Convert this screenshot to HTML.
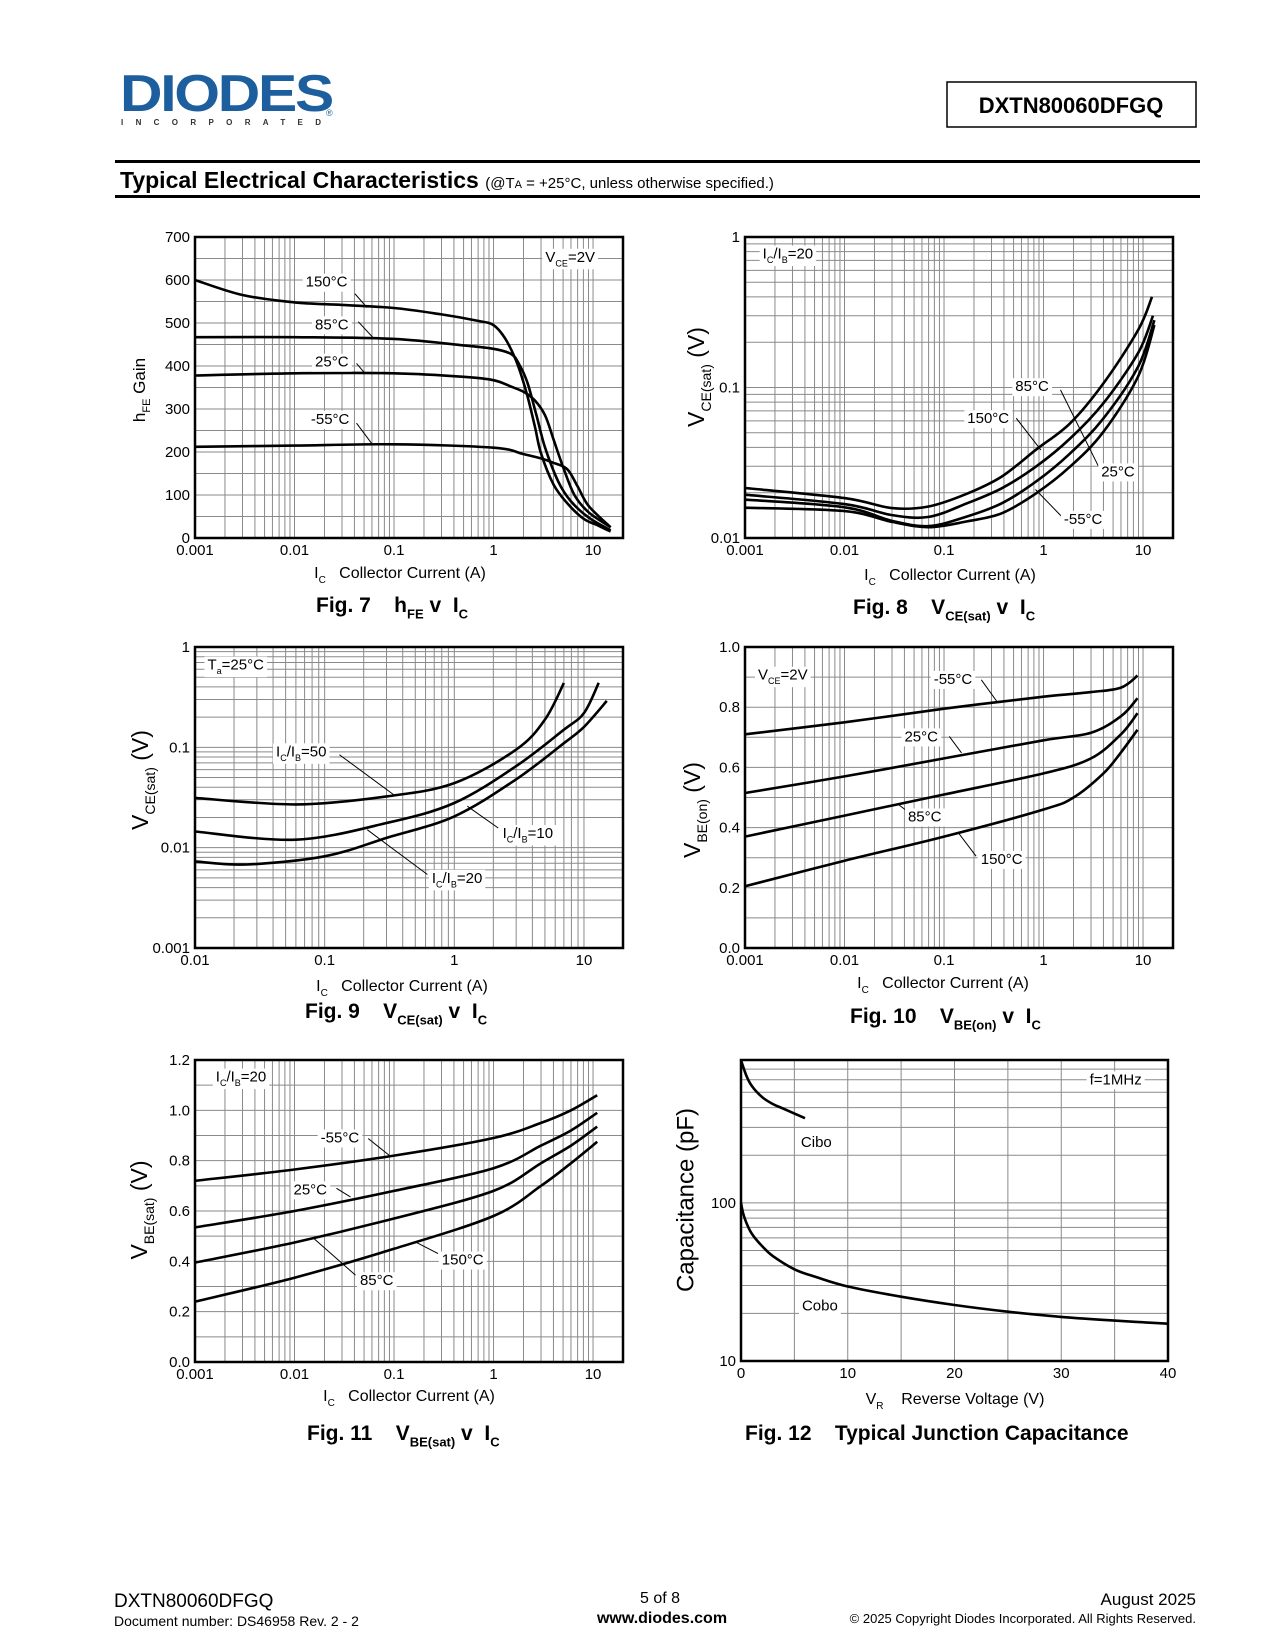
<!DOCTYPE html>
<html><head><meta charset="utf-8"><style>
body{margin:0;background:#fff}
svg{display:block;font-family:"Liberation Sans",Arial,sans-serif}
</style></head><body>
<svg id="page" xmlns="http://www.w3.org/2000/svg" width="1275" height="1650" viewBox="0 0 1275 1650">
<rect x="0" y="0" width="1275" height="1650" fill="#fff"/>
<g>
<text x="120" y="111" font-size="52" font-weight="bold" fill="#1d5e9e" textLength="212" lengthAdjust="spacingAndGlyphs" letter-spacing="-2">DIODES</text>
<text x="121" y="125" font-size="8" font-weight="bold" fill="#333" textLength="200" lengthAdjust="spacing">INCORPORATED</text>
<text x="326" y="116" font-size="9" fill="#1d5e9e">®</text>
</g>
<rect x="947" y="82" width="249" height="45" fill="none" stroke="#000" stroke-width="1.5"/>
<text x="1071" y="113" font-size="22" font-weight="bold" text-anchor="middle">DXTN80060DFGQ</text>
<rect x="115" y="160" width="1085" height="3" fill="#000"/>
<rect x="115" y="195" width="1085" height="3" fill="#000"/>
<text x="120" y="188" font-size="23" font-weight="bold">Typical Electrical Characteristics <tspan font-size="15" font-weight="normal">(@T<tspan font-size="11">A</tspan> = +25°C, unless otherwise specified.)</tspan></text>
<g>
<text x="114" y="1607" font-size="19">DXTN80060DFGQ</text>
<text x="114" y="1626" font-size="14">Document number: DS46958 Rev. 2 - 2</text>
<text x="660" y="1603" font-size="16" text-anchor="middle">5 of 8</text>
<text x="662" y="1623" font-size="16" font-weight="bold" text-anchor="middle">www.diodes.com</text>
<text x="1196" y="1605" font-size="17" text-anchor="end">August 2025</text>
<text x="1196" y="1623" font-size="13" text-anchor="end">© 2025 Copyright Diodes Incorporated. All Rights Reserved.</text>
</g>
<g id="charts"></g>
</svg>
<script>
// ---------- Fig 7 data ----------
const f7X150=[0.001,0.003,0.01,0.03,0.1,0.3,0.7,1,1.3,1.7,2.15,2.6,3,4,5.5,8,11,15];
const f7Y150=[600,565,548,542,535,520,505,495,465,410,337,260,197,125,81,45,30,15];
const f7X85=[0.001,0.01,0.1,0.5,1,1.5,1.8,2.2,2.7,3.3,4.5,6,9,15];
const f7Y85=[467,467,463,448,440,428,405,360,285,210,130,85,48,18];
const f7X25=[0.001,0.01,0.1,0.5,1,1.5,2,2.6,3.3,4,5,6.5,9,15];
const f7Y25=[378,383,383,375,367,352,340,320,285,230,165,100,60,25];
const f7Xm55=[0.001,0.01,0.1,1,2,3,4,5.5,7,9,15];
const f7Ym55=[212,215,218,210,195,185,175,160,120,75,25];
const f7YTicks=[0,100,200,300,400,500,600,700];
const f7YLabels=["0","100","200","300","400","500","600","700"];
// ---------- Fig 8 data ----------
const f8X1=[0.001,0.01,0.03,0.07,0.17,0.38,0.84,1.85,4,8.9,12.3];
const f8Y1=[0.0215,0.0184,0.0158,0.0162,0.0197,0.0256,0.0386,0.0578,0.1065,0.24,0.40];
const f8X2=[0.001,0.01,0.03,0.07,0.17,0.38,0.84,1.85,4,8.9,12.6];
const f8Y2=[0.0194,0.0168,0.0142,0.0138,0.0170,0.0214,0.0298,0.0458,0.0787,0.169,0.30];
const f8X3=[0.001,0.01,0.03,0.07,0.17,0.38,0.84,1.85,4,8.9,13];
const f8Y3=[0.018,0.016,0.013,0.0120,0.0139,0.017,0.0237,0.0365,0.0623,0.137,0.28];
const f8Y4=[0.0159,0.0151,0.0128,0.0118,0.0129,0.0146,0.0198,0.0298,0.0508,0.118,0.26];
// ---------- Fig 9 data ----------
const f9X50=[0.01,0.06,0.3,1,3,5,7];
const f9Y50=[0.0313,0.027,0.0324,0.044,0.095,0.189,0.438];
const f9X10=[0.01,0.06,0.3,1,3,7,10,13];
const f9Y10=[0.0145,0.012,0.0176,0.0279,0.065,0.15,0.22,0.44];
const f9X20=[0.01,0.025,0.1,0.3,1,3,7,10,15];
const f9Y20=[0.0073,0.0068,0.0082,0.0125,0.0205,0.048,0.11,0.16,0.29];
// ---------- Fig 10 data ----------
const f10X=[0.001,0.01,0.1,1,3,6,8.8];
const f10Ym55=[0.71,0.75,0.795,0.835,0.85,0.865,0.905];
const f10Y25=[0.515,0.57,0.63,0.69,0.715,0.77,0.83];
const f10Y85=[0.37,0.44,0.51,0.58,0.63,0.71,0.78];
const f10X150=[0.001,0.01,0.1,1,2,4,6,8.8];
const f10Y150=[0.205,0.29,0.37,0.46,0.5,0.58,0.65,0.725];
// ---------- Fig 11 data ----------
const f11X=[0.001,0.01,0.1,1,3,6,11];
const f11Ym55=[0.72,0.765,0.82,0.89,0.95,1.0,1.06];
const f11Y25=[0.535,0.6,0.68,0.77,0.86,0.92,0.99];
const f11Y85=[0.395,0.475,0.57,0.68,0.79,0.86,0.935];
const f11Y150=[0.24,0.335,0.45,0.58,0.7,0.79,0.875];
// ---------- Fig 12 data ----------
const f12XCibo=[0,0.5,1,2,3,4,6];
const f12YCibo=[796,638,550,465,421,393,343];
const f12XCobo=[0,0.2,0.5,1,2,3,5,7,10,15,20,25,30,35,40];
const f12YCobo=[100,86,75,64,53,46,38,34,29.6,25.5,22.6,20.5,19,18,17.2];
const logXTicks3=[0.001,0.01,0.1,1,10];
const logXLabels3=["0.001","0.01","0.1","1","10"];

const NS="http://www.w3.org/2000/svg";
const SP="\u00a0";
const root=document.getElementById('charts');
function mk(tag,attrs,parent){const e=document.createElementNS(NS,tag);for(const k in attrs)e.setAttribute(k,attrs[k]);parent.appendChild(e);return e;}
function logScale(d0,d1,r0,r1){const a=Math.log10(d0),b=Math.log10(d1);return v=>r0+(Math.log10(v)-a)/(b-a)*(r1-r0);}
function linScale(d0,d1,r0,r1){return v=>r0+(v-d0)/(d1-d0)*(r1-r0);}
function segText(parent,x,y,segs,size,anchor,bold){
  const t=mk('text',{x:x,y:y,'font-size':size,'text-anchor':anchor||'start'},parent);
  if(bold)t.setAttribute('font-weight','bold');
  let down=false;
  segs.forEach(s=>{const sp=mk('tspan',{},t);sp.textContent=s[0].replace(/ /g,SP);
    if(s[1]==='sub'){sp.setAttribute('font-size',Math.round(size*0.62));if(!down){sp.setAttribute('dy',size*0.3);down=true;}}
    else if(down){sp.setAttribute('dy',-size*0.3);down=false;}});
  return t;
}
function curvePath(px){let d='M'+px[0][0].toFixed(1)+','+px[0][1].toFixed(1);
  for(let i=0;i<px.length-1;i++){const p0=px[Math.max(0,i-1)],p1=px[i],p2=px[i+1],p3=px[Math.min(px.length-1,i+2)];
    const c1=[p1[0]+(p2[0]-p0[0])/6,p1[1]+(p2[1]-p0[1])/6],c2=[p2[0]-(p3[0]-p1[0])/6,p2[1]-(p3[1]-p1[1])/6];
    d+=' C'+c1[0].toFixed(1)+','+c1[1].toFixed(1)+' '+c2[0].toFixed(1)+','+c2[1].toFixed(1)+' '+p2[0].toFixed(1)+','+p2[1].toFixed(1);}
  return d;}

function chart(c){
  const g=mk('g',{},root);
  
  
  const L=c.x,T=c.y,R=c.x+c.w,B=c.y+c.h;
  const sx=c.xlog?logScale(c.xd[0],c.xd[1],L,R):linScale(c.xd[0],c.xd[1],L,R);
  const sy=c.ylog?logScale(c.yd[0],c.yd[1],B,T):linScale(c.yd[0],c.yd[1],B,T);
  const grid=mk('g',{stroke:'#8a8a8a','stroke-width':1},g);
  
  
  function gridVals(log,d,step){const out=[];
    if(log){for(let e=Math.floor(Math.log10(d[0]));e<=Math.ceil(Math.log10(d[1]));e++)for(let m=1;m<=9;m++){const v=m*Math.pow(10,e);if(v>d[0]*1.0001&&v<d[1]*0.9999)out.push(v);}}
    else{for(let v=d[0]+step;v<d[1]-1e-9;v+=step)out.push(v);}return out;}
  gridVals(c.xlog,c.xd,c.xstep).forEach(v=>{const X=sx(v);mk('line',{x1:X,x2:X,y1:T,y2:B},grid);});
  gridVals(c.ylog,c.yd,c.ystep).forEach(v=>{const Y=sy(v);mk('line',{x1:L,x2:R,y1:Y,y2:Y},grid);});
  c.series.forEach(s=>{
    const p=mk('path',{d:curvePath(s.xs.map((xv,i)=>[sx(xv),sy(s.ys[i])])),fill:'none',stroke:'#000','stroke-width':2.6,'stroke-linejoin':'round'},g);
    
    
  });
  (c.labels||[]).forEach(a=>{
    if(a.line){const ln=mk('line',{x1:sx(a.line[0]),y1:sy(a.line[1]),x2:sx(a.line[2]),y2:sy(a.line[3]),stroke:'#000','stroke-width':1},g);
      
      }
    const bg=mk('rect',{fill:'#fff'},g);
    const t=segText(g,sx(a.at[0]),sy(a.at[1])+5,a.segs,15,'middle');
    
    
    const bb=t.getBBox();bg.setAttribute('x',bb.x-3);bg.setAttribute('y',bb.y);bg.setAttribute('width',bb.width+6);bg.setAttribute('height',bb.height+1);
  });
  const fr=mk('rect',{x:L,y:T,width:c.w,height:c.h,fill:'none',stroke:'#000','stroke-width':2.5},g);
  
  
  c.yticks.forEach((v,i)=>{const t=mk('text',{x:L-5,y:sy(v)+5,'font-size':15,'text-anchor':'end'},g);t.textContent=c.ylabels[i];
    
    });
  c.xticks.forEach((v,i)=>{const t=mk('text',{x:sx(v),y:B+17,'font-size':15,'text-anchor':'middle'},g);t.textContent=c.xlabels[i];
    
    });
  const xt=segText(g,c.xt[0],c.xt[1],c.xtSegs,16,'middle');
  
  
  const ytg=mk('g',{transform:'rotate(-90 '+c.yt[0]+' '+c.yt[1]+')'},g);
  const yt=segText(ytg,c.yt[0],c.yt[1]+c.ytSize*0.35,c.ytSegs,c.ytSize,'middle');
  
  
  const cap=segText(g,c.cap[0],c.cap[1],c.capSegs,21,'start',true);
  
  
}
const icTitle=[["I",""],["C","sub"],["   Collector Current (A)",""]];

chart({name:'fig7-hfe-chart',x:195,y:237,w:428,h:301,xlog:true,xd:[0.001,20],ylog:false,yd:[0,700],ystep:50,
 xticks:logXTicks3,xlabels:logXLabels3,yticks:f7YTicks,ylabels:f7YLabels,
 series:[{name:'hfe-150c',xs:f7X150,ys:f7Y150},{name:'hfe-85c',xs:f7X85,ys:f7Y85},{name:'hfe-25c',xs:f7X25,ys:f7Y25},{name:'hfe-m55c',xs:f7Xm55,ys:f7Ym55}],
 labels:[{name:'label-150c',segs:[["150°C",""]],at:[0.021,596],line:[0.0405,568,0.0535,536]},
  {name:'label-85c',segs:[["85°C",""]],at:[0.0237,497],line:[0.0437,503,0.0627,464]},
  {name:'label-25c',segs:[["25°C",""]],at:[0.0237,410],line:[0.042,406,0.051,383]},
  {name:'label-m55c',segs:[["-55°C",""]],at:[0.0228,277],line:[0.042,267,0.06,219]},
  {name:'vce-condition',segs:[["V",""],["CE","sub"],["=2V",""]],at:[5.9,654]}],
 xt:[400,578],xtSegs:icTitle,yt:[139,390],ytSize:17,ytSegs:[["h",""],["FE","sub"],[" Gain",""]],
 cap:[316,612],capSegs:[["Fig. 7    h",""],["FE","sub"],[" v  I",""],["C","sub"]]});

chart({name:'fig8-vcesat-temp-chart',x:745,y:237,w:428,h:301,xlog:true,xd:[0.001,20],ylog:true,yd:[0.01,1],
 xticks:logXTicks3,xlabels:logXLabels3,yticks:[0.01,0.1,1],ylabels:["0.01","0.1","1"],
 series:[{name:'vcesat-top',xs:f8X1,ys:f8Y1},{name:'vcesat-second',xs:f8X2,ys:f8Y2},{name:'vcesat-third',xs:f8X3,ys:f8Y3},{name:'vcesat-bottom',xs:f8X3,ys:f8Y4}],
 labels:[{name:'ic-ib-condition',segs:[["I",""],["C","sub"],["/I",""],["B","sub"],["=20",""]],at:[0.0027,0.776]},
  {name:'label-85c',segs:[["85°C",""]],at:[0.767,0.102],line:[1.48,0.0964,3.57,0.0299]},
  {name:'label-150c',segs:[["150°C",""]],at:[0.278,0.0625],line:[0.532,0.0625,0.94,0.0385]},
  {name:'label-25c',segs:[["25°C",""]],at:[5.6,0.0277]},
  {name:'label-m55c',segs:[["-55°C",""]],at:[2.5,0.0134],line:[1.52,0.0139,0.83,0.021]}],
 xt:[950,580],xtSegs:icTitle,yt:[696,377],ytSize:23,ytSegs:[["V",""],["CE(sat)","sub"],[" (V)",""]],
 cap:[853,614],capSegs:[["Fig. 8    V",""],["CE(sat)","sub"],[" v  I",""],["C","sub"]]});

chart({name:'fig9-vcesat-ratio-chart',x:195,y:647,w:428,h:301,xlog:true,xd:[0.01,20],ylog:true,yd:[0.001,1],
 xticks:[0.01,0.1,1,10],xlabels:["0.01","0.1","1","10"],yticks:[0.001,0.01,0.1,1],ylabels:["0.001","0.01","0.1","1"],
 series:[{name:'vcesat-ratio-50',xs:f9X50,ys:f9Y50},{name:'vcesat-ratio-10',xs:f9X10,ys:f9Y10},{name:'vcesat-ratio-20',xs:f9X20,ys:f9Y20}],
 labels:[{name:'ta-condition',segs:[["T",""],["a","sub"],["=25°C",""]],at:[0.0206,0.667]},
  {name:'label-ratio-50',segs:[["I",""],["C","sub"],["/I",""],["B","sub"],["=50",""]],at:[0.066,0.0913],line:[0.13,0.0844,0.34,0.0338]},
  {name:'label-ratio-10',segs:[["I",""],["C","sub"],["/I",""],["B","sub"],["=10",""]],at:[3.69,0.014],line:[2.18,0.0157,1.26,0.0259]},
  {name:'label-ratio-20',segs:[["I",""],["C","sub"],["/I",""],["B","sub"],["=20",""]],at:[1.05,0.005],line:[0.62,0.0054,0.213,0.0151]}],
 xt:[402,991],xtSegs:icTitle,yt:[140,780],ytSize:23,ytSegs:[["V",""],["CE(sat)","sub"],[" (V)",""]],
 cap:[305,1018],capSegs:[["Fig. 9    V",""],["CE(sat)","sub"],[" v  I",""],["C","sub"]]});

chart({name:'fig10-vbeon-chart',x:745,y:647,w:428,h:301,xlog:true,xd:[0.001,20],ylog:false,yd:[0,1.0],ystep:0.1,
 xticks:logXTicks3,xlabels:logXLabels3,yticks:[0,0.2,0.4,0.6,0.8,1.0],ylabels:["0.0","0.2","0.4","0.6","0.8","1.0"],
 series:[{name:'vbeon-m55c',xs:f10X,ys:f10Ym55},{name:'vbeon-25c',xs:f10X,ys:f10Y25},{name:'vbeon-85c',xs:f10X,ys:f10Y85},{name:'vbeon-150c',xs:f10X150,ys:f10Y150}],
 labels:[{name:'vce-condition',segs:[["V",""],["CE","sub"],["=2V",""]],at:[0.0024,0.908]},
  {name:'label-m55c',segs:[["-55°C",""]],at:[0.123,0.894],line:[0.237,0.891,0.34,0.819]},
  {name:'label-25c',segs:[["25°C",""]],at:[0.059,0.703],line:[0.113,0.703,0.15,0.648]},
  {name:'label-85c',segs:[["85°C",""]],at:[0.064,0.437],line:[0.043,0.454,0.035,0.476]},
  {name:'label-150c',segs:[["150°C",""]],at:[0.38,0.296],line:[0.21,0.305,0.14,0.382]}],
 xt:[943,988],xtSegs:icTitle,yt:[692,810],ytSize:23,ytSegs:[["V",""],["BE(on)","sub"],[" (V)",""]],
 cap:[850,1023],capSegs:[["Fig. 10    V",""],["BE(on)","sub"],[" v  I",""],["C","sub"]]});

chart({name:'fig11-vbesat-chart',x:195,y:1060,w:428,h:302,xlog:true,xd:[0.001,20],ylog:false,yd:[0,1.2],ystep:0.1,
 xticks:logXTicks3,xlabels:logXLabels3,yticks:[0,0.2,0.4,0.6,0.8,1.0,1.2],ylabels:["0.0","0.2","0.4","0.6","0.8","1.0","1.2"],
 series:[{name:'vbesat-m55c',xs:f11X,ys:f11Ym55},{name:'vbesat-25c',xs:f11X,ys:f11Y25},{name:'vbesat-85c',xs:f11X,ys:f11Y85},{name:'vbesat-150c',xs:f11X,ys:f11Y150}],
 labels:[{name:'ic-ib-condition',segs:[["I",""],["C","sub"],["/I",""],["B","sub"],["=20",""]],at:[0.0029,1.134]},
  {name:'label-m55c',segs:[["-55°C",""]],at:[0.0286,0.892],line:[0.055,0.888,0.089,0.822]},
  {name:'label-25c',segs:[["25°C",""]],at:[0.0144,0.686],line:[0.0264,0.69,0.0365,0.656]},
  {name:'label-85c',segs:[["85°C",""]],at:[0.067,0.325],line:[0.041,0.345,0.0156,0.491]},
  {name:'label-150c',segs:[["150°C",""]],at:[0.49,0.407],line:[0.277,0.431,0.164,0.477]}],
 xt:[409,1401],xtSegs:icTitle,yt:[139,1210],ytSize:23,ytSegs:[["V",""],["BE(sat)","sub"],[" (V)",""]],
 cap:[307,1440],capSegs:[["Fig. 11    V",""],["BE(sat)","sub"],[" v  I",""],["C","sub"]]});

chart({name:'fig12-capacitance-chart',x:741,y:1060,w:427,h:301,xlog:false,xd:[0,40],xstep:5,ylog:true,yd:[10,800],
 xticks:[0,10,20,30,40],xlabels:["0","10","20","30","40"],yticks:[10,100],ylabels:["10","100"],
 series:[{name:'cibo-curve',xs:f12XCibo,ys:f12YCibo},{name:'cobo-curve',xs:f12XCobo,ys:f12YCobo}],
 labels:[{name:'frequency-condition',segs:[["f=1MHz",""]],at:[35.1,603]},
  {name:'label-cibo',segs:[["Cibo",""]],at:[7.06,243]},
  {name:'label-cobo',segs:[["Cobo",""]],at:[7.39,22.4]}],
 xt:[955,1404],xtSegs:[["V",""],["R","sub"],["    Reverse Voltage (V)",""]],yt:[685,1200],ytSize:24,ytSegs:[["Capacitance (pF)",""]],
 cap:[745,1440],capSegs:[["Fig. 12    Typical Junction Capacitance",""]]});
</script>
</body></html>
